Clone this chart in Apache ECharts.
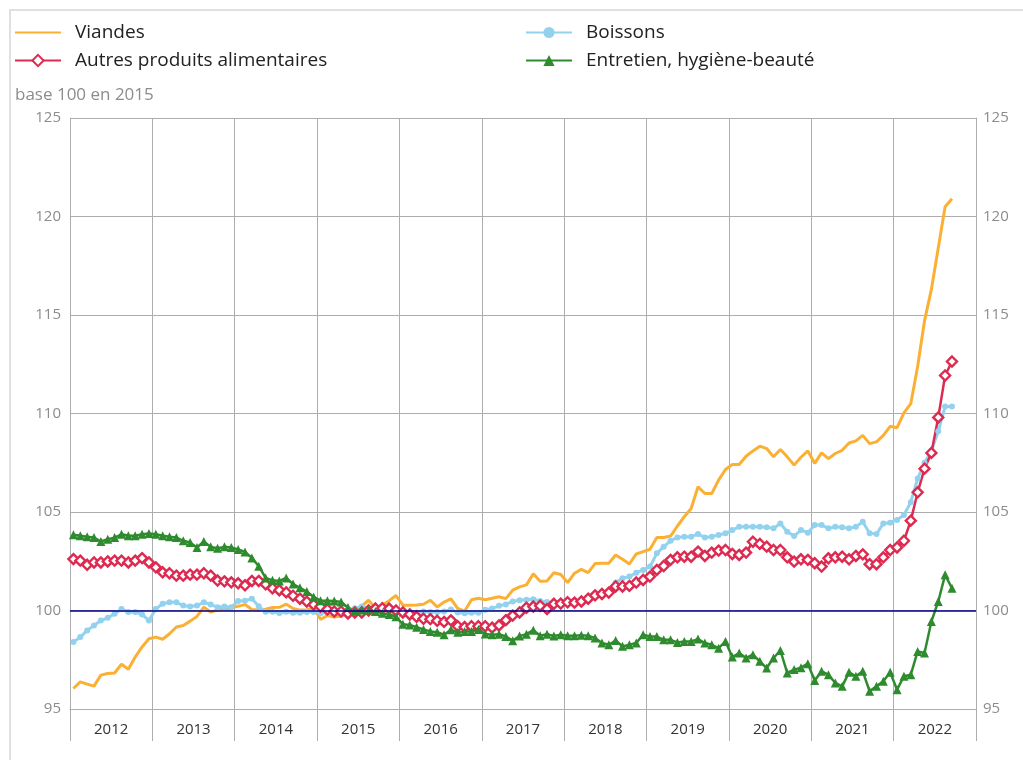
<!DOCTYPE html>
<html>
<head>
<meta charset="utf-8">
<script src="https://cdn.jsdelivr.net/npm/echarts@6/dist/echarts.min.js"></script>
<style>
  html, body { margin: 0; padding: 0; background: #fff; }
  #chart { width: 1023px; height: 760px; }
</style>
</head>
<body>
<div id="chart"></div>
<script>
// axe des années (étiquettes) et des mois (points)
var years = ['2012', '2013', '2014', '2015', '2016', '2017', '2018', '2019', '2020', '2021', '2022'];
var months = [];
years.forEach(function (y) {
  for (var m = 1; m <= 12; m++) months.push(y + '-' + (m < 10 ? '0' + m : m));
});

// indices base 100 en 2015, janv. 2012 -> sept. 2022
var viandes = [
  96.04, 96.38, 96.26, 96.16, 96.72, 96.80, 96.83, 97.27, 97.02, 97.64, 98.15, 98.57,
  98.65, 98.54, 98.82, 99.16, 99.24, 99.46, 99.70, 100.17, 99.92, 100.03, 100.08, 100.13,
  100.22, 100.30, 100.05, 100.03, 100.06, 100.15, 100.16, 100.32, 100.10, 100.02, 100.03, 100.15,
  99.55, 99.74, 99.67, 99.72, 99.85, 100.05, 100.22, 100.52, 100.12, 100.27, 100.50, 100.76,
  100.27, 100.27, 100.28, 100.32, 100.52, 100.18, 100.43, 100.59, 100.10, 99.97, 100.55, 100.62,
  100.55, 100.62, 100.70, 100.60, 101.03, 101.20, 101.30, 101.86, 101.48, 101.50, 101.92, 101.83,
  101.42, 101.89, 102.09, 101.92, 102.38, 102.40, 102.40, 102.82, 102.60, 102.36, 102.87, 102.99,
  103.11, 103.71, 103.71, 103.78, 104.29, 104.76, 105.18, 106.28, 105.94, 105.94, 106.62, 107.16,
  107.41, 107.41, 107.83, 108.10, 108.34, 108.22, 107.80, 108.17, 107.80, 107.38, 107.78, 108.10,
  107.47, 108.00, 107.71, 107.97, 108.13, 108.50, 108.61, 108.89, 108.47, 108.56, 108.89, 109.35,
  109.28, 110.03, 110.50, 112.40, 114.70, 116.30, 118.40, 120.50, 120.90
];
var boissons = [
  98.40, 98.65, 98.99, 99.24, 99.49, 99.63, 99.83, 100.08, 99.92, 99.92, 99.80, 99.49,
  100.08, 100.34, 100.42, 100.42, 100.25, 100.20, 100.25, 100.42, 100.30, 100.17, 100.20, 100.17,
  100.48, 100.50, 100.60, 100.21, 99.94, 99.94, 99.87, 99.94, 99.88, 99.88, 99.92, 99.92,
  99.86, 99.90, 99.95, 100.00, 100.03, 100.12, 100.20, 100.12, 100.03, 100.00, 99.95, 99.90,
  99.86, 99.90, 99.90, 99.95, 99.92, 99.92, 99.95, 100.05, 99.90, 99.86, 99.88, 99.88,
  100.04, 100.10, 100.24, 100.31, 100.46, 100.52, 100.55, 100.57, 100.48, 100.43, 100.40, 100.34,
  100.40, 100.42, 100.50, 100.62, 100.78, 100.86, 100.95, 101.42, 101.64, 101.72, 101.92, 102.06,
  102.23, 102.90, 103.24, 103.54, 103.71, 103.75, 103.75, 103.88, 103.71, 103.75, 103.83, 103.92,
  104.08, 104.25, 104.25, 104.25, 104.25, 104.22, 104.17, 104.42, 104.00, 103.78, 104.08, 103.95,
  104.34, 104.34, 104.17, 104.25, 104.22, 104.17, 104.25, 104.50, 103.92, 103.88, 104.42, 104.46,
  104.60, 104.85, 105.50, 106.70, 107.50, 108.10, 109.10, 110.35, 110.35
];
var autres = [
  102.61, 102.53, 102.32, 102.44, 102.44, 102.49, 102.53, 102.53, 102.44, 102.53, 102.66, 102.44,
  102.19, 101.94, 101.89, 101.77, 101.77, 101.82, 101.82, 101.89, 101.77, 101.52, 101.48, 101.43,
  101.38, 101.28, 101.50, 101.50, 101.33, 101.13, 101.03, 100.92, 100.75, 100.60, 100.45, 100.30,
  100.20, 100.05, 99.95, 99.95, 99.85, 99.90, 99.90, 100.00, 100.10, 100.12, 100.10, 100.00,
  99.90, 99.80, 99.68, 99.58, 99.56, 99.48, 99.42, 99.50, 99.20, 99.16, 99.20, 99.20,
  99.20, 99.13, 99.24, 99.51, 99.74, 99.90, 100.14, 100.20, 100.24, 100.07, 100.34, 100.35,
  100.42, 100.40, 100.46, 100.60, 100.77, 100.84, 100.91, 101.22, 101.22, 101.25, 101.42, 101.55,
  101.72, 102.06, 102.26, 102.57, 102.70, 102.73, 102.73, 102.99, 102.77, 102.94, 103.04, 103.07,
  102.87, 102.82, 102.94, 103.49, 103.38, 103.24, 103.07, 103.07, 102.70, 102.48, 102.60, 102.57,
  102.40, 102.23, 102.65, 102.70, 102.73, 102.60, 102.77, 102.85, 102.35, 102.35, 102.70, 103.07,
  103.20, 103.54, 104.56, 106.00, 107.20, 108.00, 109.80, 111.93, 112.64
];
var entretien = [
  103.84, 103.79, 103.74, 103.70, 103.50, 103.62, 103.70, 103.87, 103.79, 103.79, 103.87, 103.91,
  103.87, 103.79, 103.74, 103.70, 103.54, 103.45, 103.20, 103.50, 103.23, 103.16, 103.23, 103.20,
  103.10, 102.97, 102.67, 102.25, 101.65, 101.53, 101.50, 101.65, 101.34, 101.15, 100.96, 100.69,
  100.50, 100.50, 100.48, 100.43, 100.15, 99.97, 100.02, 100.03, 99.95, 99.86, 99.80, 99.68,
  99.30, 99.27, 99.15, 99.04, 98.94, 98.90, 98.77, 99.02, 98.89, 98.94, 98.93, 99.04,
  98.81, 98.77, 98.80, 98.68, 98.47, 98.70, 98.80, 99.00, 98.72, 98.80, 98.71, 98.77,
  98.72, 98.72, 98.75, 98.72, 98.60, 98.35, 98.26, 98.48, 98.18, 98.26, 98.35, 98.77,
  98.68, 98.68, 98.51, 98.51, 98.38, 98.43, 98.43, 98.55, 98.35, 98.26, 98.09, 98.43,
  97.64, 97.84, 97.59, 97.76, 97.42, 97.08, 97.59, 97.97, 96.83, 97.00, 97.10, 97.30,
  96.45, 96.91, 96.74, 96.32, 96.15, 96.86, 96.66, 96.91, 95.90, 96.15, 96.41, 96.86,
  95.98, 96.66, 96.74, 97.92, 97.84, 99.44, 100.46, 101.81, 101.13
];

var myChart = echarts.init(document.getElementById('chart'));
var font = 'Open Sans';
var gridColor = '#adadad';
var legendText = { fontSize: 19, color: '#222', fontFamily: font, padding: [0, 0, 0, 9] };

var option = {
  animation: false,
  textStyle: { fontFamily: font },
  title: {
    text: 'base 100 en 2015',
    left: 15, top: 87, padding: 0,
    textStyle: { fontSize: 17, fontWeight: 'normal', color: '#8c8c8c', fontFamily: font }
  },
  graphic: [{
    type: 'rect', silent: true,
    shape: { x: 10, y: 10, width: 1100, height: 800 },
    style: { fill: 'none', stroke: '#e0e0e0', lineWidth: 2 }
  }],
  legend: [
    {
      left: 9, top: 18, orient: 'vertical',
      itemWidth: 46, itemHeight: 14, itemGap: 9,
      data: [{ name: 'Viandes', itemStyle: { opacity: 0 } }, 'Autres produits alimentaires'],
      textStyle: legendText
    },
    {
      left: 520, top: 18, orient: 'vertical',
      itemWidth: 46, itemHeight: 14, itemGap: 9,
      data: ['Boissons', 'Entretien, hygiène-beauté'],
      textStyle: legendText
    }
  ],
  grid: { left: 70, right: 47, top: 118, bottom: 51 },
  xAxis: [
    { type: 'category', data: months, boundaryGap: true, show: false },
    {
      type: 'category', data: years, boundaryGap: true, position: 'bottom',
      axisLine: { show: true, lineStyle: { color: gridColor } },
      axisTick: { show: true, interval: 0, length: 32, lineStyle: { color: gridColor } },
      axisLabel: { interval: 0, color: '#333', fontSize: 15, margin: 13 },
      splitLine: { show: true, interval: 0, lineStyle: { color: gridColor } }
    }
  ],
  yAxis: [
    {
      type: 'value', min: 95, max: 125, interval: 5, position: 'left',
      axisLine: { show: true, lineStyle: { color: gridColor } },
      axisTick: { show: false },
      axisLabel: { color: '#8c8c8c', fontSize: 15, margin: 9 },
      splitLine: { lineStyle: { color: gridColor } }
    },
    {
      type: 'value', min: 95, max: 125, interval: 5, position: 'right',
      axisLine: { show: true, lineStyle: { color: gridColor } },
      axisTick: { show: false },
      axisLabel: { color: '#8c8c8c', fontSize: 15, margin: 7 },
      splitLine: { show: false }
    }
  ],
  series: [
    {
      name: 'Viandes', type: 'line', xAxisIndex: 0, yAxisIndex: 0,
      data: viandes, symbol: 'none',
      lineStyle: { color: '#FBB034', width: 3 },
      itemStyle: { color: '#FBB034' },
      markLine: {
        silent: true, symbol: 'none', label: { show: false },
        lineStyle: { color: '#00008B', width: 1.5, type: 'solid' },
        data: [{ yAxis: 100 }]
      }
    },
    {
      name: 'Boissons', type: 'line', xAxisIndex: 0, yAxisIndex: 0,
      data: boissons, symbol: 'circle', symbolSize: 6, showAllSymbol: true,
      lineStyle: { color: '#93D2EE', width: 3 },
      itemStyle: { color: '#93D2EE' }
    },
    {
      name: 'Autres produits alimentaires', type: 'line', xAxisIndex: 0, yAxisIndex: 0,
      data: autres, symbol: 'diamond', symbolSize: 10, showAllSymbol: true,
      lineStyle: { color: '#DD2A50', width: 2.5 },
      itemStyle: { color: '#fff', borderColor: '#DD2A50', borderWidth: 2.4 }
    },
    {
      name: 'Entretien, hygiène-beauté', type: 'line', xAxisIndex: 0, yAxisIndex: 0,
      data: entretien, symbol: 'triangle', symbolSize: 9, showAllSymbol: true,
      lineStyle: { color: '#2E8B2E', width: 2.5 },
      itemStyle: { color: '#2E8B2E' }
    }
  ]
};

myChart.setOption(option);
</script>
</body>
</html>
